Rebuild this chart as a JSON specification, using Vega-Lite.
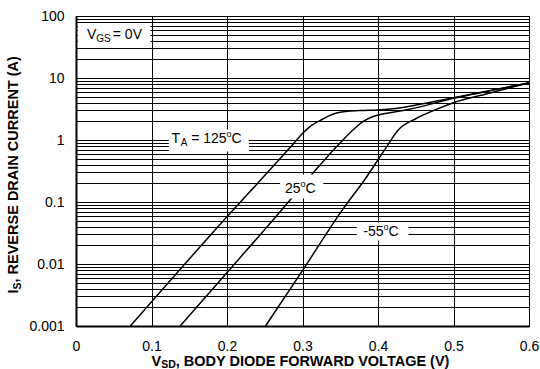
{
  "$schema": "https://vega.github.io/schema/vega-lite/v6.json",
  "width": 453,
  "height": 310,
  "autosize": {"type": "none"},
  "padding": {"left": 76, "top": 16, "right": 11, "bottom": 43},
  "background": "white",
  "config": {
    "view": {"stroke": "black", "strokeWidth": 1},
    "axis": {"labelColor": "black", "labelFont": "Liberation Sans", "labelFontSize": 14}
  },
  "datasets": {
    "curves": [
      {"T": "125", "V": 0.072, "I": 0.001}, {"T": "125", "V": 0.183, "I": 0.034},
      {"T": "125", "V": 0.282, "I": 0.72}, {"T": "125", "V": 0.301, "I": 1.31}, {"T": "125", "V": 0.312, "I": 1.72},
      {"T": "125", "V": 0.323, "I": 2.05}, {"T": "125", "V": 0.335, "I": 2.45}, {"T": "125", "V": 0.345, "I": 2.72},
      {"T": "125", "V": 0.36, "I": 2.92}, {"T": "125", "V": 0.38, "I": 3.0}, {"T": "125", "V": 0.40, "I": 3.05},
      {"T": "125", "V": 0.43, "I": 3.3}, {"T": "125", "V": 0.447, "I": 3.6}, {"T": "125", "V": 0.5, "I": 4.8},
      {"T": "125", "V": 0.6, "I": 8.3},
      {"T": "25", "V": 0.138, "I": 0.001}, {"T": "25", "V": 0.25, "I": 0.036},
      {"T": "25", "V": 0.350, "I": 0.90}, {"T": "25", "V": 0.363, "I": 1.31},
      {"T": "25", "V": 0.372, "I": 1.65}, {"T": "25", "V": 0.381, "I": 2.01}, {"T": "25", "V": 0.392, "I": 2.35},
      {"T": "25", "V": 0.403, "I": 2.58}, {"T": "25", "V": 0.42, "I": 2.8}, {"T": "25", "V": 0.44, "I": 3.1},
      {"T": "25", "V": 0.5, "I": 4.7}, {"T": "25", "V": 0.6, "I": 8.3},
      {"T": "-55", "V": 0.251, "I": 0.001}, {"T": "-55", "V": 0.301, "I": 0.0082}, {"T": "-55", "V": 0.354, "I": 0.078},
      {"T": "-55", "V": 0.383, "I": 0.235}, {"T": "-55", "V": 0.409, "I": 0.70}, {"T": "-55", "V": 0.428, "I": 1.5},
      {"T": "-55", "V": 0.45, "I": 2.2}, {"T": "-55", "V": 0.474, "I": 3.0}, {"T": "-55", "V": 0.5, "I": 4.0},
      {"T": "-55", "V": 0.55, "I": 5.8}, {"T": "-55", "V": 0.6, "I": 8.4}
    ],
    "boxes": [
      {"V1": 0.0025, "V2": 0.0985, "I1": 77, "I2": 31.5},
      {"V1": 0.1229, "V2": 0.229, "I1": 1.48, "I2": 0.653},
      {"V1": 0.2702, "V2": 0.3276, "I1": 0.278, "I2": 0.114},
      {"V1": 0.3719, "V2": 0.4404, "I1": 0.0467, "I2": 0.0239}
    ],
    "notes": [
      {"k": "vgs", "V": 0.0269, "I": 41.8, "r": "V", "sub": "GS", "tail": " = 0V"},
      {"k": "ta", "V": 0.1995, "I": 0.879, "r": " = 125", "sup": "o", "c": "C", "a": "A", "t": "T"},
      {"k": "t25", "V": 0.2975, "I": 0.1405, "r": "25", "sup": "o", "c": "C"},
      {"k": "t55", "V": 0.4074, "I": 0.0281, "r": "-55", "sup": "o", "c": "C"}
    ],
    "xt": [{"V": 0.1322, "I": 0.000225, "v": "V", "sd": "SD", "rest": ", BODY DIODE FORWARD VOLTAGE (V)"}],
    "yt": [{"V": -0.0767, "I": 0.00503, "i": "I", "s": "S", "rest": ", REVERSE DRAIN CURRENT (A)"}]
  },
  "layer": [
    {
      "data": {"name": "curves"},
      "mark": {"type": "line", "color": "black", "strokeWidth": 1.5, "interpolate": "monotone"},
      "encoding": {
        "x": {
          "field": "V", "type": "quantitative", "title": null,
          "scale": {"domain": [0, 0.6], "nice": false, "zero": false},
          "axis": {
            "title": null,
            "values": [0, 0.05, 0.1, 0.15, 0.2, 0.25, 0.3, 0.35, 0.4, 0.45, 0.5, 0.55, 0.6],
            "labelExpr": "abs(round(datum.value*20)%2)==0 ? format(datum.value, '.1~f') : ''",
            "grid": true, "gridColor": "black", "gridWidth": 1,
            "gridOpacity": {"condition": {"test": "abs(round(datum.value*20)%2)==0", "value": 1}, "value": 0},
            "ticks": true, "tickSize": -4, "tickColor": "black", "tickWidth": 1,
            "domainColor": "black", "domainWidth": 2,
            "labelPadding": 17, "labelFlush": false, "labelOverlap": false
          }
        },
        "y": {
          "field": "I", "type": "quantitative", "title": null,
          "scale": {"type": "log", "domain": [0.001, 100], "nice": false},
          "axis": {
            "title": null,
            "values": [0.001, 0.002, 0.003, 0.004, 0.005, 0.006, 0.007, 0.008, 0.009, 0.01, 0.02, 0.03, 0.04, 0.05, 0.06, 0.07, 0.08, 0.09, 0.1, 0.2, 0.3, 0.4, 0.5, 0.6, 0.7, 0.8, 0.9, 1, 2, 3, 4, 5, 6, 7, 8, 9, 10, 20, 30, 40, 50, 60, 70, 80, 90, 100],
            "labelExpr": "abs(log(datum.value)/LN10 - round(log(datum.value)/LN10)) < 0.001 ? format(datum.value, '~g') : ''",
            "grid": true, "gridColor": "black", "gridWidth": 1,
            "ticks": false, "domainColor": "black", "domainWidth": 2,
            "labelPadding": 12, "labelOverlap": false, "labelBaseline": "middle"
          }
        },
        "detail": {"field": "T", "type": "nominal"}
      }
    },
    {
      "data": {"name": "boxes"},
      "mark": {"type": "rect", "fill": "white", "strokeWidth": 0, "clip": false},
      "encoding": {
        "x": {"field": "V1", "type": "quantitative", "title": null},
        "x2": {"field": "V2"},
        "y": {"field": "I1", "type": "quantitative", "title": null},
        "y2": {"field": "I2"}
      }
    },
    {
      "data": {"name": "notes"},
      "transform": [{"filter": "isValid(datum.r)"}],
      "mark": {"type": "text", "align": "right", "baseline": "alphabetic", "font": "Liberation Sans", "fontSize": 14, "color": "black", "clip": false},
      "encoding": {
        "x": {"field": "V", "type": "quantitative", "title": null},
        "y": {"field": "I", "type": "quantitative", "title": null},
        "text": {"field": "r"}
      }
    },
    {
      "data": {"name": "notes"},
      "transform": [{"filter": "isValid(datum.sup)"}],
      "mark": {"type": "text", "align": "left", "baseline": "alphabetic", "font": "Liberation Sans", "fontSize": 9, "dy": -6, "color": "black", "clip": false},
      "encoding": {
        "x": {"field": "V", "type": "quantitative", "title": null},
        "y": {"field": "I", "type": "quantitative", "title": null},
        "text": {"field": "sup"}
      }
    },
    {
      "data": {"name": "notes"},
      "transform": [{"filter": "isValid(datum.c)"}],
      "mark": {"type": "text", "align": "left", "baseline": "alphabetic", "font": "Liberation Sans", "fontSize": 14, "dx": 5, "color": "black", "clip": false},
      "encoding": {
        "x": {"field": "V", "type": "quantitative", "title": null},
        "y": {"field": "I", "type": "quantitative", "title": null},
        "text": {"field": "c"}
      }
    },
    {
      "data": {"name": "notes"},
      "transform": [{"filter": "isValid(datum.sub)"}],
      "mark": {"type": "text", "align": "left", "baseline": "alphabetic", "font": "Liberation Sans", "fontSize": 10, "dy": 3, "color": "black", "clip": false},
      "encoding": {
        "x": {"field": "V", "type": "quantitative", "title": null},
        "y": {"field": "I", "type": "quantitative", "title": null},
        "text": {"field": "sub"}
      }
    },
    {
      "data": {"name": "notes"},
      "transform": [{"filter": "isValid(datum.tail)"}],
      "mark": {"type": "text", "align": "left", "baseline": "alphabetic", "font": "Liberation Sans", "fontSize": 14, "dx": 16.5, "color": "black", "clip": false},
      "encoding": {
        "x": {"field": "V", "type": "quantitative", "title": null},
        "y": {"field": "I", "type": "quantitative", "title": null},
        "text": {"field": "tail"}
      }
    },
    {
      "data": {"name": "notes"},
      "transform": [{"filter": "isValid(datum.a)"}],
      "mark": {"type": "text", "align": "right", "baseline": "alphabetic", "font": "Liberation Sans", "fontSize": 10, "dx": -39.3, "dy": 3, "color": "black", "clip": false},
      "encoding": {
        "x": {"field": "V", "type": "quantitative", "title": null},
        "y": {"field": "I", "type": "quantitative", "title": null},
        "text": {"field": "a"}
      }
    },
    {
      "data": {"name": "notes"},
      "transform": [{"filter": "isValid(datum.t)"}],
      "mark": {"type": "text", "align": "right", "baseline": "alphabetic", "font": "Liberation Sans", "fontSize": 14, "dx": -46.5, "color": "black", "clip": false},
      "encoding": {
        "x": {"field": "V", "type": "quantitative", "title": null},
        "y": {"field": "I", "type": "quantitative", "title": null},
        "text": {"field": "t"}
      }
    },
    {
      "data": {"name": "xt"},
      "mark": {"type": "text", "align": "left", "baseline": "alphabetic", "font": "Liberation Sans", "fontWeight": "bold", "fontSize": 14.5, "color": "black", "clip": false},
      "encoding": {
        "x": {"field": "V", "type": "quantitative", "title": null},
        "y": {"field": "I", "type": "quantitative", "title": null},
        "text": {"field": "rest"}
      }
    },
    {
      "data": {"name": "xt"},
      "mark": {"type": "text", "align": "right", "baseline": "alphabetic", "font": "Liberation Sans", "fontWeight": "bold", "fontSize": 10.5, "dy": 2, "color": "black", "clip": false},
      "encoding": {
        "x": {"field": "V", "type": "quantitative", "title": null},
        "y": {"field": "I", "type": "quantitative", "title": null},
        "text": {"field": "sd"}
      }
    },
    {
      "data": {"name": "xt"},
      "mark": {"type": "text", "align": "right", "baseline": "alphabetic", "font": "Liberation Sans", "fontWeight": "bold", "fontSize": 14.5, "dx": -14.6, "color": "black", "clip": false},
      "encoding": {
        "x": {"field": "V", "type": "quantitative", "title": null},
        "y": {"field": "I", "type": "quantitative", "title": null},
        "text": {"field": "v"}
      }
    },
    {
      "data": {"name": "yt"},
      "mark": {"type": "text", "align": "left", "baseline": "alphabetic", "angle": 270, "font": "Liberation Sans", "fontWeight": "bold", "fontSize": 14.5, "color": "black", "clip": false},
      "encoding": {
        "x": {"field": "V", "type": "quantitative", "title": null},
        "y": {"field": "I", "type": "quantitative", "title": null},
        "text": {"field": "rest"}
      }
    },
    {
      "data": {"name": "yt"},
      "mark": {"type": "text", "align": "right", "baseline": "alphabetic", "angle": 270, "font": "Liberation Sans", "fontWeight": "bold", "fontSize": 10.5, "dy": 3, "color": "black", "clip": false},
      "encoding": {
        "x": {"field": "V", "type": "quantitative", "title": null},
        "y": {"field": "I", "type": "quantitative", "title": null},
        "text": {"field": "s"}
      }
    },
    {
      "data": {"name": "yt"},
      "mark": {"type": "text", "align": "right", "baseline": "alphabetic", "angle": 270, "font": "Liberation Sans", "fontWeight": "bold", "fontSize": 14.5, "dx": -7.0, "color": "black", "clip": false},
      "encoding": {
        "x": {"field": "V", "type": "quantitative", "title": null},
        "y": {"field": "I", "type": "quantitative", "title": null},
        "text": {"field": "i"}
      }
    }
  ]
}
